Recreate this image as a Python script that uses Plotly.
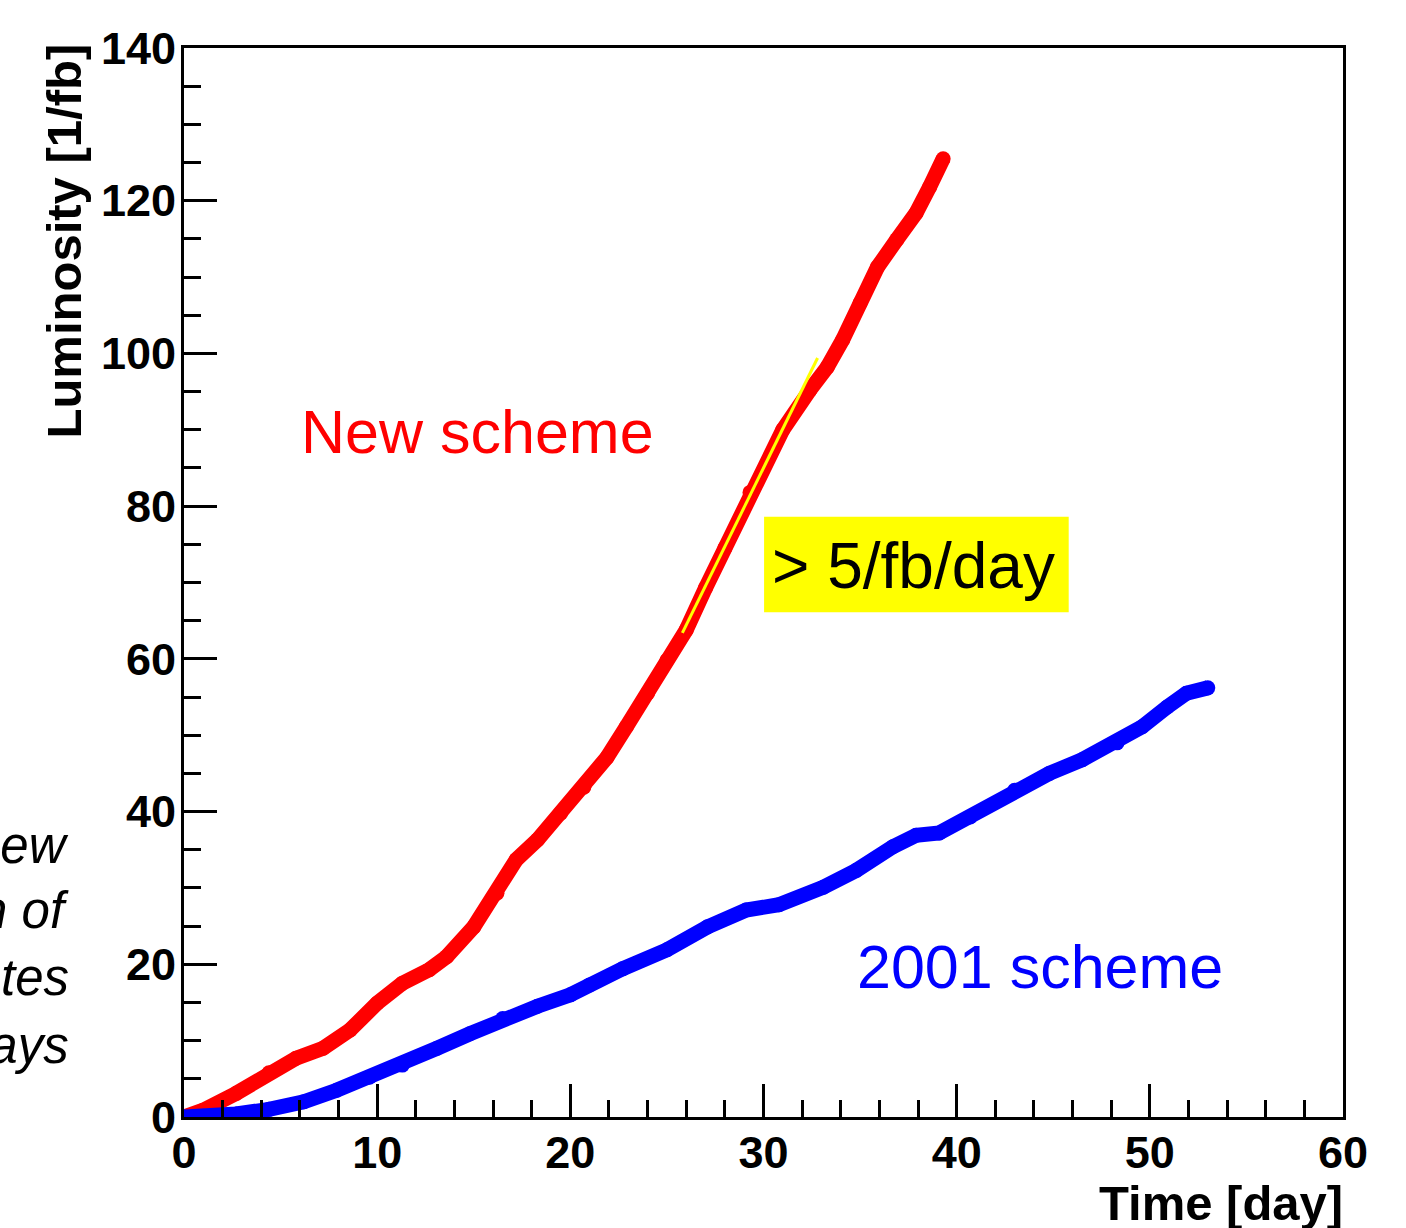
import plotly.graph_objects as go

# Integrated luminosity vs. running time for the two injection schemes
new_days = [0, 1.0, 2.7, 4.4, 5.8, 7.2, 8.6, 10.0, 11.3, 12.7, 13.6, 15.0, 16.2, 17.2,
            18.3, 19.5, 20.7, 21.9, 22.9, 24.0, 25.0, 26.0, 27.0, 28.0, 29.3, 31.0,
            32.4, 33.3, 34.1, 35.0, 35.9, 36.9, 37.9, 38.6, 39.3]
new_lumi = [0, 0.9, 3.1, 5.8, 7.7, 9.0, 11.4, 14.9, 17.5, 19.3, 21.0, 24.9, 29.3, 33.7,
            36.3, 39.8, 43.2, 47.1, 51.1, 55.5, 59.8, 63.8, 69.3, 74.5, 81.8, 90.0,
            95.2, 98.2, 101.8, 106.6, 111.3, 114.9, 118.4, 121.8, 125.5]

old_days = [0, 1.0, 2.7, 4.4, 6.2, 7.9, 9.6, 11.3, 13.1, 14.8, 16.5, 18.3, 20.0, 21.0,
            22.7, 25.0, 27.1, 29.1, 30.8, 33.1, 34.8, 36.7, 37.9, 39.1, 40.7, 43.0,
            44.8, 46.5, 48.3, 49.6, 50.9, 51.9, 53.0]
old_lumi = [0, 0.1, 0.4, 1.0, 2.0, 3.5, 5.2, 6.8, 9.0, 10.9, 12.9, 14.5, 16.0, 17.3,
            19.4, 21.9, 24.9, 27.1, 27.8, 30.1, 32.3, 35.4, 36.9, 37.2, 39.3, 42.8,
            45.0, 46.8, 49.0, 51.1, 53.7, 55.5, 56.2]

# Peak-rate guide: about 5.15 /fb per day between day 25.8 and day 32.8
rate_days = [25.8, 32.8]
rate_lumi = [63.4, 99.4]

x_ticks = [0, 10, 20, 30, 40, 50, 60]
y_ticks = [0, 20, 40, 60, 80, 100, 120, 140]

W, H = 1406, 1228
L, R, T, B = 184, 63, 48, 111
PW, PH = W - L - R, H - T - B


def px(xp):
    return (xp - L) / PW


def py(yp):
    return (H - B - yp) / PH


FONT = "Liberation Sans, Arial, Helvetica, sans-serif"

fig = go.Figure()
fig.add_trace(go.Scatter(x=new_days, y=new_lumi, mode="lines+markers",
                         line=dict(color="#ff0000", width=15),
                         marker=dict(color="#ff0000", size=15),
                         showlegend=False, name="New scheme"))
fig.add_trace(go.Scatter(x=old_days, y=old_lumi, mode="lines+markers",
                         line=dict(color="#0000ff", width=15),
                         marker=dict(color="#0000ff", size=15),
                         showlegend=False, name="2001 scheme"))
fig.add_trace(go.Scatter(x=rate_days, y=rate_lumi, mode="lines",
                         line=dict(color="#ffff00", width=3),
                         showlegend=False, name="rate"))

axis_common = dict(
    showgrid=False, zeroline=False,
    showline=True, linecolor="black", linewidth=3, mirror=True,
    ticks="inside", ticklen=33, tickwidth=3, tickcolor="black",
    tickfont=dict(family=FONT, size=45, color="black", weight="bold"),
)
fig.update_xaxes(range=[0, 60], tickvals=x_ticks, ticklabelstandoff=-6,
                 minor=dict(dtick=2, ticks="inside", ticklen=17, tickwidth=3,
                            tickcolor="black"),
                 **axis_common)
fig.update_yaxes(range=[0, 140], tickvals=y_ticks, ticklabelstandoff=-4,
                 minor=dict(dtick=5, ticks="inside", ticklen=17, tickwidth=3,
                            tickcolor="black"),
                 **axis_common)

# Label box for the peak rate
fig.add_shape(type="rect", xref="x", yref="y", x0=30.03, x1=45.8, y0=66.1, y1=78.6,
              fillcolor="#ffff00", line=dict(width=0), layer="below")

annotations = [
    dict(text="New scheme", x=px(477), y=py(432), font=dict(size=61, color="#ff0000")),
    dict(text="2001 scheme", x=px(1040), y=py(967), font=dict(size=61, color="#0000ff")),
    dict(text="&gt; 5/fb/day", x=px(913), y=py(566), font=dict(size=64, color="black")),
    dict(text="<b>Time [day]</b>", x=px(1345), y=py(1203), xanchor="right",
         font=dict(size=49, color="black")),
    dict(text="<b>Luminosity [1/fb]</b>", x=px(64), y=py(42), yanchor="top",
         textangle=-90, font=dict(size=49, color="black")),
    dict(text="<i>new</i>", x=px(71), y=py(845), xanchor="right",
         font=dict(size=51, color="black")),
    dict(text="<i>n of</i>", x=px(71), y=py(910), xanchor="right",
         font=dict(size=51, color="black")),
    dict(text="<i>tes</i>", x=px(71), y=py(977), xanchor="right",
         font=dict(size=51, color="black")),
    dict(text="<i>days</i>", x=px(71), y=py(1045), xanchor="right",
         font=dict(size=51, color="black")),
]
for a in annotations:
    a.setdefault("xanchor", "center")
    a.setdefault("yanchor", "middle")
    a["font"]["family"] = FONT
    fig.add_annotation(xref="paper", yref="paper", showarrow=False, **a)

fig.update_layout(width=W, height=H, margin=dict(l=L, r=R, t=T, b=B),
                  paper_bgcolor="white", plot_bgcolor="white")

fig.write_html("out.html")
